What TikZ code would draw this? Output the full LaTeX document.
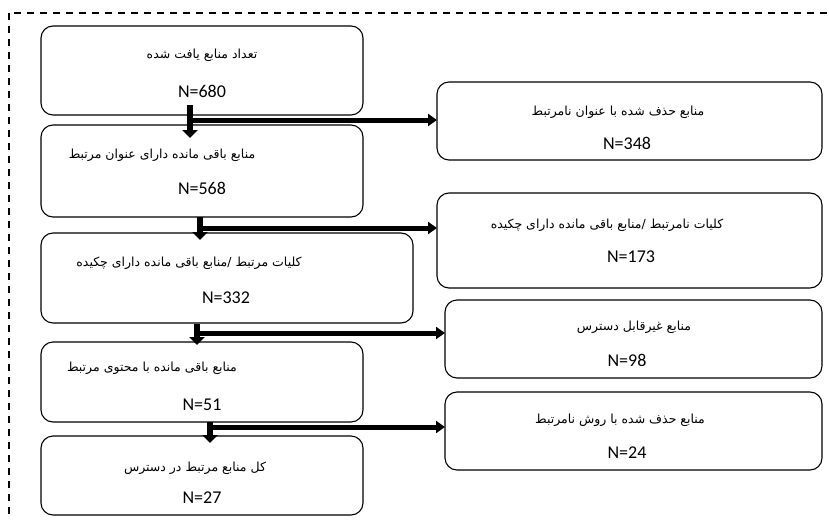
\documentclass[tikz,border=0pt]{standalone}
\usepackage{fontspec}
\setmainfont{Carlito}
\newfontfamily\fa[Script=Arabic]{DejaVu Sans}
\TeXXeTstate=1
\usetikzlibrary{arrows.meta}

\begin{document}
\begin{tikzpicture}[
    x=1pt, y=-1pt,
    box/.style={
        draw,
        rounded corners=12pt,
        line width=1.1pt,
        fill=white,
        inner sep=0pt,
        outer sep=0pt
    },
    fatext/.style={
        inner sep=0pt,
        font=\fa\fontsize{12.5}{14}\selectfont
    },
    ntext/.style={
        inner sep=0pt,
        font=\fontsize{18}{20}\selectfont
    },
    stem/.style={
        line width=6pt,
        -{Triangle[width=15pt,length=8pt]}
    },
    side/.style={
        line width=5pt,
        -{Triangle[width=12pt,length=9pt]}
    },
    frame/.style={
        line width=1.6pt,
        dash pattern=on 7pt off 6pt
    }
]
\useasboundingbox (0,0) rectangle (829,519);

% 바깥 점선 테두리
\draw[frame] (9,13) rectangle (845,535);

% 왼쪽 상자
\node[box, minimum width=322pt, minimum height=89pt] (b1) at (202,70.5) {};
\node[box, minimum width=322pt, minimum height=92pt] (b2) at (202,171) {};
\node[box, minimum width=372pt, minimum height=90pt] (b3) at (227,278) {};
\node[box, minimum width=322pt, minimum height=80pt] (b4) at (202,382) {};
\node[box, minimum width=322pt, minimum height=79pt] (b5) at (202,475.5) {};

% 오른쪽 상자
\node[box, minimum width=385pt, minimum height=78pt] (r1) at (629.5,121) {};
\node[box, minimum width=385pt, minimum height=95pt] (r2) at (629.5,240.5) {};
\node[box, minimum width=377pt, minimum height=78pt] (r3) at (633.5,339) {};
\node[box, minimum width=377pt, minimum height=78pt] (r4) at (633.5,431) {};

% 글자
\node[fatext] (t1) at (202,55) {\beginR تعداد منابع یافت شده\endR};
\node[ntext] (n1) at (202,91) {N=680};
\node[fatext] (t2) at (162,155) {\beginR منابع باقی مانده دارای عنوان مرتبط\endR};
\node[ntext] (n2) at (202,188) {N=568};
\node[fatext] (t3) at (189,263) {\beginR کلیات مرتبط /منابع باقی مانده دارای چکیده\endR};
\node[ntext] (n3) at (226,298) {N=332};
\node[fatext] (t4) at (152,368) {\beginR منابع باقی مانده با محتوی مرتبط\endR};
\node[ntext] (n4) at (202,405) {N=51};
\node[fatext] (t5) at (195,468) {\beginR کل منابع مرتبط در دسترس\endR};
\node[ntext] (n5) at (202,498) {N=27};

\node[fatext] (s1) at (618,112) {\beginR منابع حذف شده با عنوان نامرتبط\endR};
\node[ntext] (m1) at (627,143) {N=348};
\node[fatext] (s2) at (607,225) {\beginR کلیات نامرتبط /منابع باقی مانده دارای چکیده\endR};
\node[ntext] (m2) at (631,257) {N=173};
\node[fatext] (s3) at (634,327) {\beginR منابع غیرقابل دسترس\endR};
\node[ntext] (m3) at (627,360) {N=98};
\node[fatext] (s4) at (620,420) {\beginR منابع حذف شده با روش نامرتبط\endR};
\node[ntext] (m4) at (627,453) {N=24};

% 갈림점
\coordinate (j1) at (190,120);
\coordinate (j2) at (200,228);
\coordinate (j3) at (197,333);
\coordinate (j4) at (210,427);

% 아래 화살표
\draw[stem] ([yshift=10pt]j1 |- b1.south) -- ([yshift=-13pt]j1 |- b2.north);
\draw[stem] (j2 |- b2.south) -- ([yshift=-7pt]j2 |- b3.north);
\draw[stem] ([yshift=-1pt]j3 |- b3.south) -- ([yshift=-3pt]j3 |- b4.north);
\draw[stem] (j4 |- b4.south) -- ([yshift=-7pt]j4 |- b5.north);

% 옆 화살표
\draw[side] (j1) -- (j1 -| r1.west);
\draw[side] (j2) -- (j2 -| r2.west);
\draw[side] (j3) -- (j3 -| r3.west);
\draw[side] (j4) -- (j4 -| r4.west);

\end{tikzpicture}
\end{document}
